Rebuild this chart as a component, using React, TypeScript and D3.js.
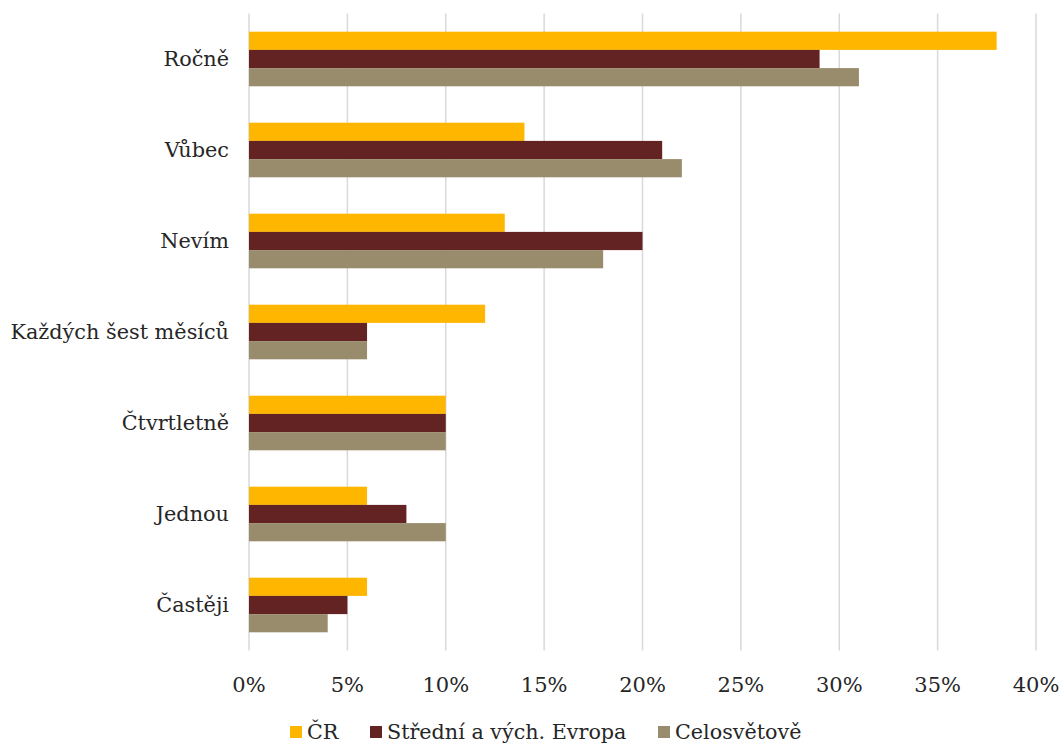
import React from "react";
import * as d3 from "d3";

const categories = ["Ročně", "Vůbec", "Nevím", "Každých šest měsíců", "Čtvrtletně", "Jednou", "Častěji"];
const seriesNames = ["ČR", "Střední a vých. Evropa", "Celosvětově"];
const cr = [38, 14, 13, 12, 10, 6, 6];
const sve = [29, 21, 20, 6, 10, 8, 5];
const celo = [31, 22, 18, 6, 10, 10, 4];
const colors = ["#FFB600", "#622322", "#998C6D"];
const ticks = [0, 5, 10, 15, 20, 25, 30, 35, 40];

const W = 1064, H = 747;
const FONT = "'DejaVu Serif', Georgia, serif";

export default function App() {
  const x = d3.scaleLinear().domain([0, 40]).range([249, 1036]);
  const y = d3.scaleBand().domain(categories).range([13.5, 650.5]).paddingInner(0.4).paddingOuter(0.2);
  const inner = d3.scaleBand().domain(seriesNames).range([0, y.bandwidth()]);
  const data = [cr, sve, celo];
  const legendX = [290, 370, 658];
  return (
    <svg width={W} height={H} style={{ position: "absolute", left: 0, top: 0 }} fontFamily={FONT}>
      <rect width={W} height={H} fill="#fff" />
      {ticks.map((t) => (
        <line key={t} x1={x(t)} x2={x(t)} y1={13.5} y2={650.5} stroke="#D9D9D9" strokeWidth={1.5} />
      ))}
      {categories.map((c, i) => (
        <g key={c}>
          {data.map((s, j) => (
            <rect key={j} x={x(0)} y={(y(c) as number) + (inner(seriesNames[j]) as number)} width={x(s[i]) - x(0)} height={inner.bandwidth()} fill={colors[j]} />
          ))}
          <text x={229} y={(y(c) as number) + y.bandwidth() / 2} textAnchor="end" dominantBaseline="central" fontSize={20.8} fill="#262626">{c}</text>
        </g>
      ))}
      {ticks.map((t) => (
        <text key={t} x={x(t)} y={685} textAnchor="middle" dominantBaseline="central" fontSize={21} fill="#262626">{t}%</text>
      ))}
      {seriesNames.map((s, j) => (
        <g key={s}>
          <rect x={legendX[j]} y={726} width={12} height={12} fill={colors[j]} />
          <text x={legendX[j] + 17} y={732} dominantBaseline="central" fontSize={20.7} fill="#262626">{s}</text>
        </g>
      ))}
    </svg>
  );
}
